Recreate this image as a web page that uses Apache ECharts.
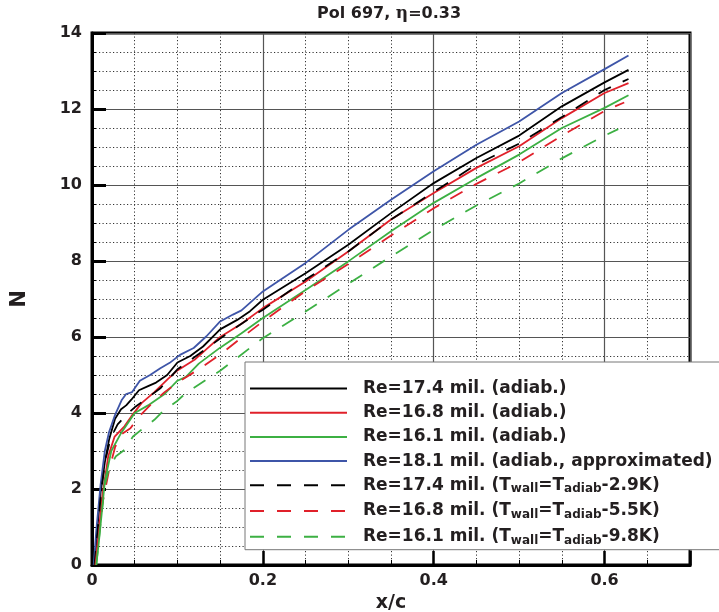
<!DOCTYPE html>
<html>
<head>
<meta charset="utf-8">
<script src="https://cdn.jsdelivr.net/npm/echarts@6/dist/echarts.min.js"></script>
<style>
  html, body { margin: 0; padding: 0; background: #fff; }
  #myChart { width: 719px; height: 612px; }
</style>
</head>
<body>
<div id="myChart"></div>
<script>
// [x/c, N]
var re174Adiab = [[0.003,0],[0.006,0.9],[0.01,1.9],[0.015,2.7],[0.02,3.3],[0.027,3.85],[0.034,4.1],[0.04,4.2],[0.046,4.35],[0.055,4.6],[0.065,4.7],[0.075,4.8],[0.088,5.0],[0.1,5.33],[0.115,5.5],[0.13,5.75],[0.15,6.2],[0.17,6.45],[0.185,6.68],[0.2,6.98],[0.25,7.68],[0.3,8.43],[0.35,9.26],[0.4,10.05],[0.45,10.71],[0.5,11.3],[0.55,12.07],[0.6,12.7],[0.628,13.03]];
var re168Adiab = [[0.004,0],[0.008,0.9],[0.012,1.8],[0.019,2.86],[0.0265,3.38],[0.038,3.65],[0.046,3.91],[0.058,4.26],[0.073,4.55],[0.089,4.9],[0.1,5.12],[0.12,5.4],[0.135,5.7],[0.15,6.0],[0.175,6.35],[0.2,6.76],[0.25,7.46],[0.3,8.25],[0.35,9.09],[0.4,9.79],[0.45,10.45],[0.5,11.02],[0.55,11.76],[0.6,12.42],[0.628,12.68]];
var re161Adiab = [[0.005,0],[0.008,0.6],[0.012,1.5],[0.015,2.2],[0.0226,3.0],[0.034,3.47],[0.05,4.0],[0.0656,4.2],[0.085,4.5],[0.1,4.85],[0.11,4.95],[0.125,5.3],[0.15,5.72],[0.175,6.1],[0.2,6.5],[0.25,7.24],[0.3,7.99],[0.35,8.78],[0.4,9.53],[0.45,10.18],[0.5,10.8],[0.55,11.5],[0.6,12.03],[0.628,12.36]];
var re181Approx = [[0.002,0],[0.005,0.9],[0.01,2.1],[0.015,3.0],[0.02,3.5],[0.027,3.95],[0.035,4.35],[0.04,4.5],[0.047,4.55],[0.056,4.85],[0.068,5.0],[0.08,5.18],[0.091,5.32],[0.103,5.53],[0.119,5.71],[0.134,6.02],[0.15,6.41],[0.165,6.59],[0.175,6.7],[0.2,7.2],[0.25,7.95],[0.3,8.82],[0.35,9.61],[0.4,10.36],[0.45,11.06],[0.5,11.67],[0.55,12.42],[0.6,13.05],[0.628,13.41]];
var re174Cold = [[0.003,0],[0.007,1.0],[0.011,2.0],[0.016,2.8],[0.022,3.35],[0.03,3.7],[0.04,3.95],[0.05,4.15],[0.065,4.4],[0.08,4.65],[0.1,5.15],[0.125,5.55],[0.15,5.96],[0.175,6.35],[0.2,6.72],[0.25,7.51],[0.3,8.25],[0.35,9.09],[0.4,9.82],[0.45,10.54],[0.5,11.09],[0.55,11.79],[0.6,12.5],[0.628,12.79]];
var re168Cold = [[0.004,0],[0.008,0.8],[0.012,1.6],[0.02,2.5],[0.027,3.1],[0.035,3.45],[0.045,3.6],[0.055,3.9],[0.07,4.25],[0.085,4.55],[0.1,4.8],[0.125,5.15],[0.15,5.54],[0.175,5.98],[0.2,6.41],[0.25,7.21],[0.3,7.92],[0.35,8.67],[0.4,9.39],[0.45,10.03],[0.5,10.6],[0.55,11.3],[0.6,11.95],[0.623,12.17]];
var re161Cold = [[0.005,0],[0.01,1.1],[0.015,2.1],[0.02,2.55],[0.028,2.86],[0.038,3.03],[0.048,3.38],[0.06,3.6],[0.073,3.82],[0.085,4.09],[0.099,4.3],[0.11,4.53],[0.15,5.11],[0.2,5.97],[0.25,6.67],[0.3,7.4],[0.35,8.12],[0.4,8.82],[0.45,9.46],[0.5,10.04],[0.55,10.7],[0.6,11.3],[0.616,11.47]];

var seriesNames = [
  'Re=17.4 mil. (adiab.)',
  'Re=16.8 mil. (adiab.)',
  'Re=16.1 mil. (adiab.)',
  'Re=18.1 mil. (adiab., approximated)',
  'Re=17.4 mil. (Twall=Tadiab-2.9K)',
  'Re=16.8 mil. (Twall=Tadiab-5.5K)',
  'Re=16.1 mil. (Twall=Tadiab-9.8K)'
];
var legendRich = [
  '{t|Re=17.4 mil. (adiab.)}',
  '{t|Re=16.8 mil. (adiab.)}',
  '{t|Re=16.1 mil. (adiab.)}',
  '{t|Re=18.1 mil. (adiab., approximated)}',
  '{t|Re=17.4 mil. (T}{s|wall}{t|=T}{s|adiab}{t|-2.9K)}',
  '{t|Re=16.8 mil. (T}{s|wall}{t|=T}{s|adiab}{t|-5.5K)}',
  '{t|Re=16.1 mil. (T}{s|wall}{t|=T}{s|adiab}{t|-9.8K)}'
];
var seriesData = [re174Adiab, re168Adiab, re161Adiab, re181Approx, re174Cold, re168Cold, re161Cold];
var seriesColors = ['#000000', '#e0202a', '#3cb043', '#3e55a8', '#000000', '#e0202a', '#3cb043'];
var dashed = [false, false, false, false, true, true, true];

var xTicks = [0, 0.2, 0.4, 0.6];
var yTicks = [0, 2, 4, 6, 8, 10, 12, 14];

var FONT = 'DejaVu Sans';

var myChart = echarts.init(document.getElementById('myChart'));

var series = seriesNames.map(function (name, i) {
  return {
    name: name,
    type: 'line',
    xAxisIndex: 0,
    yAxisIndex: 0,
    data: seriesData[i],
    symbol: 'none',
    z: 5,
    lineStyle: {
      color: seriesColors[i],
      width: 1.8,
      type: dashed[i] ? [14, 13] : 'solid'
    },
    itemStyle: { color: seriesColors[i] },
    emphasis: { disabled: true }
  };
});

var dotted = { color: '#333', width: 1, type: [1.2, 2.3] };
var major = { color: '#555', width: 1.2, type: 'solid' };

myChart.setOption({
  animation: false,
  backgroundColor: '#fff',
  title: {
    text: '{b|Pol 697, }{e|η}{b|=0.33}',
    left: 312,
    top: 0,
    textStyle: {
      rich: {
        b: { fontFamily: FONT, fontWeight: 'bold', fontSize: 16, color: '#231f20' },
        e: { fontFamily: 'DejaVu Serif', fontSize: 17, color: '#231f20' }
      }
    }
  },
  grid: {
    left: 92, right: 29, top: 33, bottom: 47,
    outerBoundsMode: 'none',
    show: true, borderColor: '#000', borderWidth: 3, backgroundColor: 'transparent'
  },
  legend: {
    orient: 'vertical',
    left: 245,
    top: 362,
    itemWidth: 97,
    itemHeight: 20,
    itemGap: 7.2,
    padding: [18, 10, 3, 4],
    backgroundColor: '#fff',
    borderColor: '#777',
    borderWidth: 1,
    z: 10,
    selectedMode: false,
    data: seriesNames,
    itemStyle: { opacity: 0 },
    lineStyle: { width: 2 },
    formatter: function (name) {
      return legendRich[seriesNames.indexOf(name)];
    },
    textStyle: {
      padding: [0, 0, 0, 11],
      rich: {
        t: { fontFamily: FONT, fontWeight: 'bold', fontSize: 17, lineHeight: 20, color: '#231f20' },
        s: { fontFamily: FONT, fontWeight: 'bold', fontSize: 12, lineHeight: 4, verticalAlign: 'bottom', color: '#231f20' }
      }
    }
  },
  xAxis: [
    {
      type: 'value', min: 0, max: 0.7, interval: 0.05, position: 'bottom',
      axisLine: { show: false, onZero: false },
      axisTick: { show: true, inside: true, length: 5, lineStyle: { color: '#000', width: 1 } },
      axisLabel: { show: false },
      splitLine: { show: true, lineStyle: dotted }
    },
    {
      type: 'value', min: 0, max: 0.7, interval: 0.2, position: 'bottom',
      name: 'x/c', nameLocation: 'middle', nameGap: 27,
      nameTextStyle: { fontFamily: FONT, fontWeight: 'bold', fontSize: 19, color: '#231f20' },
      axisLine: { show: true, onZero: false, lineStyle: { color: '#000', width: 3 } },
      axisTick: { show: true, inside: true, length: 14, lineStyle: { color: '#000', width: 2.5 } },
      axisLabel: {
        margin: 8, fontFamily: FONT, fontWeight: 'bold', fontSize: 16, color: '#231f20',
        formatter: function (v) {
          return xTicks.indexOf(Math.round(v * 10) / 10) >= 0 && v < 0.65 ? String(Math.round(v * 10) / 10) : '';
        }
      },
      splitLine: { show: true, lineStyle: major }
    }
  ],
  yAxis: [
    {
      type: 'value', min: 0, max: 14, interval: 0.5, position: 'left',
      axisLine: { show: false, onZero: false },
      axisTick: { show: true, inside: true, length: 4, lineStyle: { color: '#000', width: 1 } },
      axisLabel: { show: false },
      splitLine: { show: true, lineStyle: dotted }
    },
    {
      type: 'value', min: 0, max: 14, interval: 2, position: 'left',
      name: 'N', nameLocation: 'middle', nameGap: 62, nameRotate: 90,
      nameTextStyle: { fontFamily: FONT, fontWeight: 'bold', fontSize: 21, color: '#231f20' },
      axisLine: { show: true, onZero: false, lineStyle: { color: '#000', width: 3 } },
      axisTick: { show: true, inside: true, length: 14, lineStyle: { color: '#000', width: 3 } },
      axisLabel: {
        margin: 10, fontFamily: FONT, fontWeight: 'bold', fontSize: 16, color: '#231f20',
        formatter: function (v) { return yTicks.indexOf(v) >= 0 ? String(v) : ''; }
      },
      splitLine: { show: true, lineStyle: major }
    }
  ],
  series: series
});
</script>
</body>
</html>
